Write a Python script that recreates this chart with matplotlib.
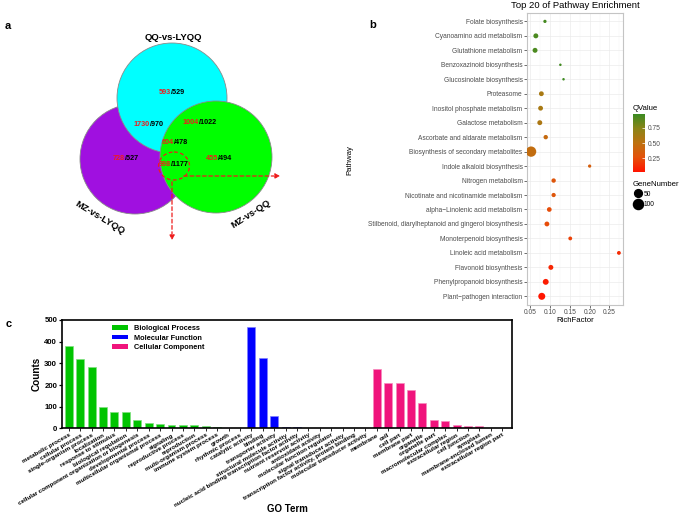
import numpy as np
import matplotlib
matplotlib.use('Agg')
import matplotlib.pyplot as plt
import matplotlib.colorbar as mcolorbar
from matplotlib.colors import LinearSegmentedColormap, Normalize
from matplotlib.patches import Circle, Ellipse, Patch
from matplotlib.lines import Line2D

plt.rcParams['font.family'] = ['Liberation Sans', 'DejaVu Sans']

W, H = 685, 516


def box(x0, y0, x1, y1):
    # caja en pixeles (origen arriba-izquierda) -> coordenadas de figura
    return [x0 / W, 1 - y1 / H, (x1 - x0) / W, (y1 - y0) / H]


# ---------------- datos panel a (Venn) ----------------
venn_names = ['QQ-vs-LYQQ', 'MZ-vs-LYQQ', 'MZ-vs-QQ']
region_up = [593, 1730, 1004, 604, 728, 998, 455]
region_down = [529, 970, 1022, 478, 527, 1177, 494]

# ---------------- datos panel b (KEGG) ----------------
pathways = ['Folate biosynthesis', 'Cyanoamino acid metabolism', 'Glutathione metabolism',
            'Benzoxazinoid biosynthesis', 'Glucosinolate biosynthesis', 'Proteasome',
            'Inositol phosphate metabolism', 'Galactose metabolism',
            'Ascorbate and aldarate metabolism', 'Biosynthesis of secondary metabolites',
            'Indole alkaloid biosynthesis', 'Nitrogen metabolism',
            'Nicotinate and nicotinamide metabolism', 'alpha\u2212Linolenic acid metabolism',
            'Stilbenoid, diarylheptanoid and gingerol biosynthesis',
            'Monoterpenoid biosynthesis', 'Linoleic acid metabolism',
            'Flavonoid biosynthesis', 'Phenylpropanoid biosynthesis',
            'Plant\u2212pathogen interaction']
rich_factor = [0.087, 0.064, 0.062, 0.126, 0.134, 0.078, 0.076, 0.074, 0.089, 0.052,
               0.200, 0.109, 0.109, 0.098, 0.092, 0.151, 0.274, 0.102, 0.089, 0.079]
q_value = [0.94, 0.92, 0.92, 0.95, 0.96, 0.60, 0.60, 0.58, 0.45, 0.47,
           0.36, 0.30, 0.30, 0.25, 0.24, 0.20, 0.12, 0.10, 0.06, 0.03]
gene_number = [4, 13, 13, 3, 3, 12, 12, 13, 9, 105,
               4, 9, 8, 11, 12, 6, 6, 13, 22, 37]

# ---------------- datos panel c (GO) ----------------
bp_terms = ['metabolic process', 'cellular process', 'single-organism process', 'localization',
            'response to stimulus', 'biological regulation',
            'cellular component organization or biogenesis', 'developmental process',
            'multicellular organismal process', 'signaling', 'reproductive process',
            'reproduction', 'multi-organism process', 'immune system process', 'growth',
            'rhythmic process']
bp_counts = [380, 321, 283, 98, 77, 75, 41, 26, 22, 17, 15, 14, 11, 6, 3, 1]
mf_terms = ['catalytic activity', 'binding', 'transporter activity',
            'structural molecule activity',
            'nucleic acid binding transcription factor activity',
            'nutrient reservoir activity', 'antioxidant activity',
            'molecular function regulator', 'signal transducer activity',
            'transcription factor activity, protein binding', 'molecular transducer activity']
mf_counts = [466, 324, 58, 6, 5, 4, 4, 4, 3, 1, 0]
cc_terms = ['membrane', 'cell', 'cell part', 'membrane part', 'organelle', 'organelle part',
            'macromolecular complex', 'extracellular region', 'cell junction', 'symplast',
            'membrane-enclosed lumen', 'extracellular region part']
cc_counts = [272, 211, 210, 177, 117, 37, 34, 16, 11, 11, 4, 1]

fig = plt.figure(figsize=(6.85, 5.16), dpi=100)

# ======================= panel a =======================
ax_a = fig.add_axes(box(0, 0, 330, 290))
ax_a.set_xlim(0, 330)
ax_a.set_ylim(290, 0)
ax_a.axis('off')

circulos = [((135, 159), 55, '#a010e0'), ((172, 98), 55, '#00ffff'), ((216, 157), 56, '#00ff00')]
for (cx, cy), r, col in circulos:
    ax_a.add_patch(Circle((cx, cy), r, facecolor=col, edgecolor='#8a8a8a', lw=0.6))

ax_a.text(173, 37, venn_names[0], ha='center', va='center', fontsize=6.8, fontweight='bold')
ax_a.text(100, 218, venn_names[1], ha='center', va='center', fontsize=6.8,
          fontweight='bold', rotation=-31)
ax_a.text(251, 214, venn_names[2], ha='center', va='center', fontsize=6.8,
          fontweight='bold', rotation=33)

pos_regiones = [(171.3, 92), (150, 125), (199, 123), (173.5, 142),
                (124.5, 159), (171, 164), (218, 158)]
for (x, y), up, down in zip(pos_regiones, region_up, region_down):
    t = ax_a.text(x, y, str(up), ha='right', va='center', fontsize=5.2,
                  fontweight='bold', color='#ee1c1c')
    ax_a.annotate('/' + str(down), xy=(1, 0.5), xycoords=t, ha='left', va='center',
                  fontsize=5.2, fontweight='bold', color='black')

ax_a.add_patch(Ellipse((174, 166), 31, 28, fill=False, edgecolor='#ee1c1c',
                       lw=0.9, ls=(0, (3, 2))))
ax_a.annotate('', xy=(283, 176), xytext=(181, 176),
              arrowprops=dict(arrowstyle='-|>', color='#ee1c1c', lw=0.9,
                              ls=(0, (3, 2)), mutation_scale=7))
ax_a.annotate('', xy=(172, 243), xytext=(172, 179),
              arrowprops=dict(arrowstyle='-|>', color='#ee1c1c', lw=0.9,
                              ls=(0, (3, 2)), mutation_scale=7))

fig.text(5 / W, 1 - 26 / H, 'a', fontsize=8, fontweight='bold', va='center')
fig.text(369 / W, 1 - 25 / H, 'b', fontsize=8, fontweight='bold', va='center')
fig.text(6 / W, 1 - 324 / H, 'c', fontsize=8, fontweight='bold', va='center')

# ======================= panel b =======================
cmap = LinearSegmentedColormap.from_list(
    'qv', ['#ff1500', '#e4520a', '#bd7110', '#8c8418', '#3c8b22'])
norm = Normalize(vmin=0.031, vmax=0.969)


def diam_pt(n):
    # diametro del punto segun GeneNumber (estilo scale_size de ggplot)
    return (2.5 + 8 * np.sqrt((np.asarray(n) - 3) / 107.0)) * 0.72


ax_b = fig.add_axes(box(526.7, 12.7, 623.3, 305))
ypos = np.arange(len(pathways))[::-1]
ax_b.scatter(rich_factor, ypos, s=diam_pt(gene_number) ** 2, c=q_value, cmap=cmap,
             norm=norm, edgecolors='none', zorder=3)
ax_b.set_xlim(0.0409, 0.2851)
ax_b.set_ylim(-0.6, len(pathways) - 0.4)
ax_b.set_xticks([0.05, 0.10, 0.15, 0.20, 0.25])
ax_b.set_xticklabels(['0.05', '0.10', '0.15', '0.20', '0.25'])
ax_b.set_xticks([0.075, 0.125, 0.175, 0.225, 0.275], minor=True)
ax_b.set_yticks(ypos)
ax_b.set_yticklabels(pathways)
ax_b.grid(True, which='major', color='#ebebeb', lw=0.5, zorder=0)
ax_b.grid(True, which='minor', axis='x', color='#f4f4f4', lw=0.35, zorder=0)
ax_b.set_axisbelow(True)
ax_b.tick_params(axis='both', which='major', labelsize=4.8, labelcolor='#4d4d4d',
                 length=2, width=0.5, color='#333333', pad=1)
ax_b.tick_params(axis='x', which='minor', length=0)
for s in ax_b.spines.values():
    s.set_color('#c4c4c4')
    s.set_linewidth(0.8)
fig.text(575 / W, 1 - 5 / H, 'Top 20 of Pathway Enrichment', ha='center', va='center',
         fontsize=6.8)
fig.text(575 / W, 1 - 321 / H, 'RichFactor', ha='center', va='center', fontsize=5.6)
fig.text(350 / W, 1 - 160 / H, 'Pathway', ha='center', va='center', fontsize=5.6,
         rotation=90)

cax = fig.add_axes(box(633.3, 114.3, 645, 171.7))
cb = mcolorbar.ColorbarBase(cax, cmap=cmap, norm=norm, ticks=[0.25, 0.50, 0.75])
cb.outline.set_visible(False)
cb.ax.set_yticklabels(['0.25', '0.50', '0.75'])
cb.ax.tick_params(labelsize=4.8, labelcolor='#4d4d4d', length=2, width=0.5,
                  color='white', direction='in', pad=2)
fig.text(633 / W, 1 - 109 / H, 'QValue', ha='left', va='center', fontsize=5.6)

fig.text(633 / W, 1 - 184 / H, 'GeneNumber', ha='left', va='center', fontsize=5.6)
handles = [Line2D([], [], marker='o', ls='', color='black', markersize=diam_pt(n))
           for n in [50, 100]]
ax_b.legend(handles, ['50', '100'], loc='upper left',
            bbox_to_anchor=(634 / W, 1 - 190.5 / H), bbox_transform=fig.transFigure,
            frameon=False, fontsize=4.8, handlelength=1.2, handletextpad=0.3,
            labelspacing=0.55, borderpad=0, borderaxespad=0)

# ======================= panel c =======================
ax_c = fig.add_axes(box(62, 320, 512, 428.4))
grupos = [(bp_terms, bp_counts, '#00c400', '#80e080', 'Biological Process'),
          (mf_terms, mf_counts, '#0000ff', '#8080ff', 'Molecular Function'),
          (cc_terms, cc_counts, '#f0147c', '#f78abd', 'Cellular Component')]
etiquetas = []
inicio = 0
leg_handles = []
for terms, counts, col, borde, nombre in grupos:
    xs = np.arange(inicio, inicio + len(terms))
    ax_c.bar(xs, counts, width=0.7, color=col, edgecolor=borde, linewidth=0.5, zorder=2)
    etiquetas += terms
    inicio += len(terms)
    leg_handles.append(Patch(facecolor=col, edgecolor='none', label=nombre))

ax_c.set_xlim(-0.6, inicio - 0.15)
ax_c.set_ylim(0, 500)
ax_c.set_yticks([0, 100, 200, 300, 400, 500])
ax_c.set_xticks(np.arange(inicio))
ax_c.set_xticklabels(etiquetas, rotation=30, ha='right', rotation_mode='anchor',
                     fontsize=4.5, fontweight='bold')
ax_c.tick_params(axis='x', length=2, width=0.6, pad=1)
ax_c.tick_params(axis='y', length=2.5, width=0.9, labelsize=5.6, pad=1)
for lbl in ax_c.get_yticklabels():
    lbl.set_fontweight('bold')
for s in ax_c.spines.values():
    s.set_linewidth(1.2)
ax_c.set_ylabel('Counts', fontsize=7.2, fontweight='bold', labelpad=2)
fig.text(287 / W, 1 - 509 / H, 'GO Term', ha='center', va='center', fontsize=7,
         fontweight='bold')
ax_c.legend(handles=leg_handles, loc='upper left', bbox_to_anchor=(0.1, 1.0),
            frameon=False, prop={'size': 5.3, 'weight': 'bold'}, handlelength=2.2,
            handleheight=0.6, labelspacing=0.35, borderaxespad=0.3)

fig.savefig('out.png', dpi=100, facecolor='white')
